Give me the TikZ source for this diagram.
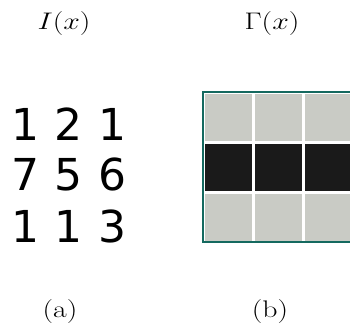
\RequirePackage{fix-cm}
\documentclass[tikz,border=0pt]{standalone}
\usepackage{fontspec}
\newfontfamily\digitfont{DejaVu Sans}
\definecolor{cellgray}{RGB}{201,203,197}
\definecolor{cellblack}{RGB}{26,26,26}
\definecolor{frameteal}{RGB}{20,105,95}
\newcommand{\lblsize}{\fontsize{24}{29}\selectfont}
\tikzset{
  lbl/.style={anchor=base, xscale=1.24, transform shape, inner sep=0pt},
  digit/.style={font=\digitfont\fontsize{44}{50}\selectfont, anchor=base},
  cellg/.style={fill=cellgray, draw=none, minimum width=47pt, minimum height=47pt, inner sep=0pt},
  cellb/.style={fill=cellblack, draw=none, minimum width=47pt, minimum height=47pt, inner sep=0pt},
}
\begin{document}
\begin{tikzpicture}[x=1pt,y=-1pt]
\useasboundingbox (0,0) rectangle (350,333);
\node[lbl] (ti) at (64,29) {\lblsize$I(x)$};
\node[lbl] (tg) at (272,29) {\lblsize$\Gamma(x)$};
\node[lbl] (ca) at (60,317) {\lblsize(a)};
\node[lbl] (cb) at (270,317) {\lblsize(b)};
% digits
\node[digit] (d11) at (25,140) {1};
\node[digit] (d12) at (68,140) {2};
\node[digit] (d13) at (112,140) {1};
\node[digit] (d21) at (25,190) {7};
\node[digit] (d22) at (68,190) {5};
\node[digit] (d23) at (112,190) {6};
\node[digit] (d31) at (25,242) {1};
\node[digit] (d32) at (68,242) {1};
\node[digit] (d33) at (112,242) {3};
% grid
\fill[white] (203,92) rectangle (353,242);
\node[cellg] (g11) at (228,117) {};
\node[cellg] (g12) at (278,117) {};
\node[cellg] (g13) at (328,117) {};
\node[cellb] (g21) at (228,167) {};
\node[cellb] (g22) at (278,167) {};
\node[cellb] (g23) at (328,167) {};
\node[cellg] (g31) at (228,217) {};
\node[cellg] (g32) at (278,217) {};
\node[cellg] (g33) at (328,217) {};
\draw[frameteal, line width=2pt] (203,92) rectangle (353,242);
\end{tikzpicture}
\end{document}
